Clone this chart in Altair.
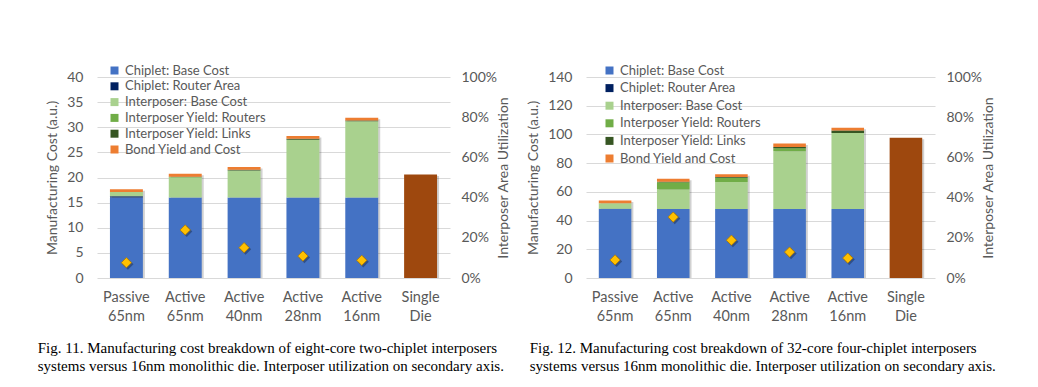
import altair as alt
import pandas as pd

# ---------------- data ----------------
categories = ["Passive 65nm", "Active 65nm", "Active 40nm", "Active 28nm", "Active 16nm", "Single Die"]
interposer_cats = ["Passive 65nm", "Active 65nm", "Active 40nm", "Active 28nm", "Active 16nm"]
components = ["Chiplet: Base Cost", "Chiplet: Router Area", "Interposer: Base Cost",
              "Interposer Yield: Routers", "Interposer Yield: Links", "Bond Yield and Cost"]
component_colors = ["#4472C4", "#002060", "#A9D18E", "#70AD47", "#375623", "#ED7D31"]
single_die_color = "#9E480E"

# Fig. 11 (eight-core, two chiplets)
f11_chiplet_base = [16.0, 16.0, 16.0, 16.0, 16.0]
f11_chiplet_router = [0.25, 0.0, 0.0, 0.0, 0.0]
f11_interposer_base = [0.85, 4.0, 5.4, 11.5, 15.2]
f11_interposer_routers = [0.0, 0.1, 0.0, 0.0, 0.0]
f11_interposer_links = [0.0, 0.05, 0.15, 0.2, 0.15]
f11_bond = [0.55, 0.6, 0.55, 0.55, 0.55]
f11_single_die = 20.6
f11_utilization = [7.6, 23.9, 15.1, 10.9, 8.8]
f11_caption = ["Fig. 11.  Manufacturing cost breakdown of eight-core two-chiplet interposers",
               "systems versus 16nm monolithic die. Interposer utilization on secondary axis."]

# Fig. 12 (32-core, four chiplets)
f12_chiplet_base = [48.0, 48.0, 48.0, 48.0, 48.0]
f12_chiplet_router = [0.3, 0.0, 0.0, 0.0, 0.0]
f12_interposer_base = [3.7, 13.7, 18.8, 40.2, 53.0]
f12_interposer_routers = [0.0, 5.0, 3.0, 2.1, 0.0]
f12_interposer_links = [0.0, 0.3, 0.5, 1.0, 1.8]
f12_bond = [2.0, 2.2, 2.0, 2.3, 1.8]
f12_single_die = 97.7
f12_utilization = [9.0, 30.3, 18.8, 12.9, 9.9]
f12_caption = ["Fig. 12.  Manufacturing cost breakdown of 32-core four-chiplet interposers",
               "systems versus 16nm monolithic die. Interposer utilization on secondary axis."]

GRAY = "#595959"


def panel(parts, single_die, util, ymax, ystep, caption, width, legend_x, legend_y, row_pad, cap_dx):
    rows = []
    for j, (comp, vals) in enumerate(zip(components, parts)):
        for cat, v in zip(interposer_cats, vals):
            rows.append({"cat": cat, "comp": comp, "order": j, "value": v})
    df_stack = pd.DataFrame(rows)
    df_single = pd.DataFrame({"cat": ["Single Die"], "value": [single_die]})
    df_all = pd.concat([df_stack[["cat", "value"]], df_single], ignore_index=True)
    df_util = pd.DataFrame({"cat": interposer_cats, "util": [u / 100 for u in util]})

    x = alt.X("cat:N", sort=categories,
              scale=alt.Scale(domain=categories, paddingInner=0.44, paddingOuter=0.22),
              axis=alt.Axis(title=None, labelExpr="split(datum.label, ' ')", labelAngle=0,
                            ticks=False, domain=False, labelPadding=12, labelFontSize=14.5,
                            labelLineHeight=19, labelColor=GRAY))
    yscale = alt.Scale(domain=[0, ymax], nice=False)
    yvals = list(range(0, ymax + 1, ystep))
    yaxis = alt.Axis(title="Manufacturing Cost (a.u.)", values=yvals, grid=True,
                     gridColor="#D9D9D9", domain=False, ticks=False, labelPadding=14,
                     titlePadding=7, orient="left")

    shadow = alt.Chart(df_all).mark_bar(color="#000000", opacity=0.18, xOffset=2, yOffset=1.5).encode(
        x=x, y=alt.Y("sum(value):Q", scale=yscale, axis=yaxis, title="Manufacturing Cost (a.u.)"))
    stack = alt.Chart(df_stack).mark_bar().encode(
        x=x,
        y=alt.Y("value:Q", stack="zero", scale=yscale, axis=yaxis, title="Manufacturing Cost (a.u.)"),
        color=alt.Color("comp:N", scale=alt.Scale(domain=components, range=component_colors),
                        legend=alt.Legend(title=None, orient="none", legendX=legend_x, legendY=legend_y,
                                          symbolType="square", symbolSize=64, symbolStrokeWidth=0,
                                          labelFontSize=13, labelColor=GRAY, rowPadding=row_pad,
                                          labelOffset=4)),
        order=alt.Order("order:Q"))
    single = alt.Chart(df_single).mark_bar(color=single_die_color).encode(
        x=x, y=alt.Y("value:Q", scale=yscale, axis=yaxis, title="Manufacturing Cost (a.u.)"))
    bars = alt.layer(shadow, stack, single)

    uscale = alt.Scale(domain=[0, 1], nice=False)
    uaxis = alt.Axis(orient="right", format="%", values=[0, 0.2, 0.4, 0.6, 0.8, 1.0],
                     title="Interposer Area Utilization", grid=False, domain=False,
                     ticks=False, labelPadding=11, titlePadding=0, titleAngle=270,
                     titleBaseline="top")
    dshadow = alt.Chart(df_util).mark_point(shape="diamond", filled=True, size=125, color="#000000",
                                            opacity=0.3, xOffset=1.5, yOffset=1.5).encode(
        x=x, y=alt.Y("util:Q", scale=uscale, axis=uaxis, title="Interposer Area Utilization"))
    diamonds = alt.Chart(df_util).mark_point(shape="diamond", filled=True, size=105, fill="#FFC000",
                                             stroke="#B07800", strokeWidth=0.8, opacity=1).encode(
        x=x, y=alt.Y("util:Q", scale=uscale, axis=uaxis, title="Interposer Area Utilization"))
    pts = alt.layer(dshadow, diamonds)

    return alt.layer(bars, pts).resolve_scale(y="independent").properties(
        width=width, height=201,
        title=alt.TitleParams(text=caption, orient="bottom", anchor="start", frame="bounds",
                              font="Liberation Serif", fontSize=15, fontWeight="normal",
                              color="#000000", offset=18, lineHeight=18, dx=cap_dx))


p1 = panel([f11_chiplet_base, f11_chiplet_router, f11_interposer_base, f11_interposer_routers,
            f11_interposer_links, f11_bond], f11_single_die, f11_utilization, 40, 5, f11_caption,
           353, 11, -13, 1.8, -8)
p2 = panel([f12_chiplet_base, f12_chiplet_router, f12_interposer_base, f12_interposer_routers,
            f12_interposer_links, f12_bond], f12_single_die, f12_utilization, 140, 20, f12_caption,
           349, 17, -13, 3.6, 3)

chart = alt.hconcat(p1, p2, spacing=15).resolve_scale(color="independent").resolve_legend(
    color="independent").configure(
    font="Lato", padding={"left": 29, "top": 56, "right": 5, "bottom": 5}).configure_axis(
    labelFont="Lato", titleFont="Lato", labelFontSize=14, titleFontSize=14, labelColor=GRAY,
    titleColor=GRAY, titleFontWeight="normal").configure_legend(labelFont="Lato").configure_view(
    stroke=None)

chart.save("out.html", embed_options={"renderer": "svg", "actions": False})
